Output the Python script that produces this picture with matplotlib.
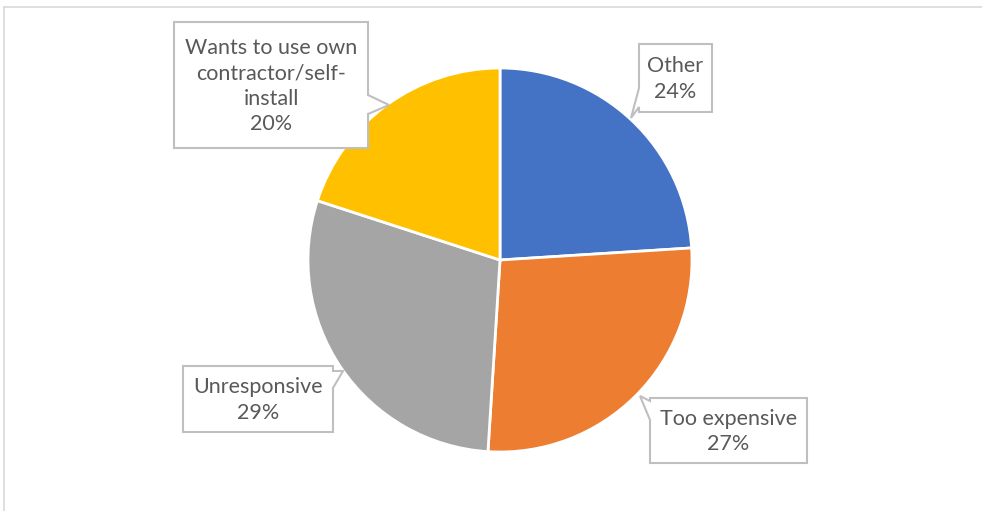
import matplotlib.pyplot as plt
from matplotlib.patches import Polygon

W, H = 982, 511

labels = ["Other", "Too expensive", "Unresponsive", "Wants to use own\ncontractor/self-\ninstall"]
shares = [24, 27, 29, 20]
colors = ["#4472C4", "#ED7D31", "#A5A5A5", "#FFC000"]

# callout boxes in pixel coords: (left, top, right, bottom), pointer base edge, base span, tip
callouts = [
    ((639, 44, 712, 112), "left", (88, 107), (631, 118)),
    ((650, 398, 807, 463), "left", (401, 420), (640, 396)),
    ((183, 366, 333, 432), "right", (371, 388), (343, 371)),
    ((174, 22, 368, 148), "right", (95, 114), (389, 105)),
]

TEXT = "#595959"
EDGE = "#BFBFBF"


def callout_poly(box, side, span, tip):
    l, t, r, b = box
    if side == "left":
        return [(l, t), (r, t), (r, b), (l, b), (l, span[1]), tip, (l, span[0])]
    return [(l, t), (r, t), (r, span[0]), tip, (r, span[1]), (r, b), (l, b)]


fig = plt.figure(figsize=(W / 100, H / 100), dpi=100)
ax = fig.add_axes([0, 0, 1, 1])

# y axis inverted (pixel coords), so screen-clockwise = data-counterclockwise
ax.pie(shares, colors=colors, startangle=-90, counterclock=True,
       center=(500, 260), radius=192,
       wedgeprops=dict(edgecolor="white", linewidth=2))

for lab, val, (box, side, span, tip) in zip(labels, shares, callouts):
    ax.add_patch(Polygon(callout_poly(box, side, span, tip), closed=True,
                         facecolor="white", edgecolor=EDGE, linewidth=1.5, zorder=3))
    l, t, r, b = box
    ax.text((l + r) / 2, (t + b) / 2 + 1, f"{lab}\n{val}%", ha="center", va="center",
            color=TEXT, fontsize=15.5, family="Lato", linespacing=1.35, zorder=4)

# chart border (only top and left visible)
ax.plot([4, W], [7, 7], color="#D9D9D9", lw=1.2)
ax.plot([4, 4], [7, H], color="#D9D9D9", lw=1.2)

ax.set_xlim(0, W)
ax.set_ylim(H, 0)
ax.axis("off")

fig.savefig("out.png", dpi=100)
